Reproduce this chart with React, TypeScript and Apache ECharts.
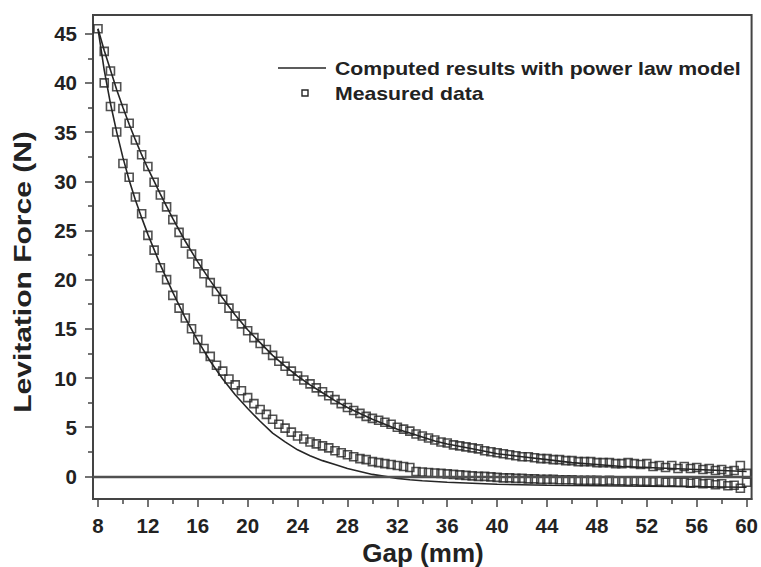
import React, { useEffect, useRef } from "react";
import * as echarts from "echarts";

const X_MAJOR = [8, 12, 16, 20, 24, 28, 32, 36, 40, 44, 48, 52, 56, 60];
const X_MINOR = [10, 14, 18, 22, 26, 30, 34, 38, 42, 46, 50, 54, 58];
const Y_MAJOR = [0, 5, 10, 15, 20, 25, 30, 35, 40, 45];
const Y_MINOR = [2.5, 7.5, 12.5, 17.5, 22.5, 27.5, 32.5, 37.5, 42.5];

const LEGEND_LINE = "Computed results with power law model";
const LEGEND_MEASURED = "Measured data";

const measuredUpper: number[][] = [
  [8, 45.5], [8.5, 43.2], [9, 41.2], [9.5, 39.6], [10, 37.4], [10.5, 35.9], [11, 34.2], [11.5, 32.7],
  [12, 31.5], [12.5, 29.9], [13, 28.6], [13.5, 27.4], [14, 26.1], [14.5, 24.8], [15, 23.7], [15.5, 22.6],
  [16, 21.6], [16.5, 20.6], [17, 19.7], [17.5, 18.8], [18, 18.0], [18.5, 17.1], [19, 16.3], [19.5, 15.5],
  [20, 14.8], [20.5, 14.1], [21, 13.5], [21.5, 12.9], [22, 12.3], [22.5, 11.7], [23, 11.2], [23.5, 10.7],
  [24, 10.2], [24.5, 9.8], [25, 9.4], [25.5, 9.0], [26, 8.6], [26.5, 8.2], [27, 7.8], [27.5, 7.4],
  [28, 7.0], [28.5, 6.7], [29, 6.4], [29.5, 6.1], [30, 5.9], [30.5, 5.7], [31, 5.5], [31.5, 5.3],
  [32, 5.0], [32.5, 4.8], [33, 4.6], [33.5, 4.3], [34, 4.1], [34.5, 3.9], [35, 3.7], [35.5, 3.5],
  [36, 3.4], [36.5, 3.2], [37, 3.1], [37.5, 3.0], [38, 2.9], [38.5, 2.8], [39, 2.6], [39.5, 2.5],
  [40, 2.4], [40.5, 2.3], [41, 2.2], [41.5, 2.1], [42, 2.0], [42.5, 2.0], [43, 1.9], [43.5, 1.8],
  [44, 1.8], [44.5, 1.7], [45, 1.7], [45.5, 1.6], [46, 1.6], [46.5, 1.5], [47, 1.5], [47.5, 1.5],
  [48, 1.4], [48.5, 1.4], [49, 1.4], [49.5, 1.3], [50, 1.3], [50.5, 1.4], [51, 1.3], [51.5, 1.2],
  [52, 1.3], [52.5, 1.0], [53, 1.1], [53.5, 0.9], [54, 1.1], [54.5, 0.8], [55, 1.0], [55.5, 0.8],
  [56, 0.9], [56.5, 0.7], [57, 0.8], [57.5, 0.6], [58, 0.7], [58.5, 0.5], [59, 0.6], [59.5, 1.1],
  [60, 0.3],
];

const measuredLower: number[][] = [
  [8.5, 40.0], [9, 37.6], [9.5, 35.0], [10, 31.8], [10.5, 30.4], [11, 28.4], [11.5, 26.7],
  [12, 24.5], [12.5, 23.0], [13, 21.2], [13.5, 20.0], [14, 18.4], [14.5, 17.1], [15, 16.1], [15.5, 15.0],
  [16, 13.9], [16.5, 13.0], [17, 12.2], [17.5, 11.3], [18, 10.7], [18.5, 9.9], [19, 9.3], [19.5, 8.7],
  [20, 8.0], [20.5, 7.4], [21, 6.8], [21.5, 6.3], [22, 5.8], [22.5, 5.3], [23, 4.9], [23.5, 4.5],
  [24, 4.1], [24.5, 3.8], [25, 3.5], [25.5, 3.3], [26, 3.1], [26.5, 2.9], [27, 2.6], [27.5, 2.4],
  [28, 2.2], [28.5, 2.0], [29, 1.8], [29.5, 1.7], [30, 1.5], [30.5, 1.4], [31, 1.3], [31.5, 1.2],
  [32, 1.1], [32.5, 1.0], [33, 0.9], [33.5, 0.5], [34, 0.45], [34.5, 0.4], [35, 0.35], [35.5, 0.3],
  [36, 0.25], [36.5, 0.2], [37, 0.15], [37.5, 0.1], [38, 0.05], [38.5, 0.0], [39, 0.0], [39.5, -0.05],
  [40, -0.1], [40.5, -0.15], [41, -0.15], [41.5, -0.2], [42, -0.2], [42.5, -0.25], [43, -0.25], [43.5, -0.3],
  [44, -0.3], [44.5, -0.3], [45, -0.35], [45.5, -0.35], [46, -0.35], [46.5, -0.4], [47, -0.4], [47.5, -0.4],
  [48, -0.4], [48.5, -0.45], [49, -0.4], [49.5, -0.45], [50, -0.45], [50.5, -0.5], [51, -0.45], [51.5, -0.5],
  [52, -0.5], [52.5, -0.55], [53, -0.5], [53.5, -0.6], [54, -0.55], [54.5, -0.6], [55, -0.6], [55.5, -0.7],
  [56, -0.6], [56.5, -0.75], [57, -0.7], [57.5, -0.85], [58, -0.75], [58.5, -0.95], [59, -0.9], [59.5, -1.2],
  [60, -0.6],
];

const modelUpper: number[][] = [
  [8, 45.5], [8.5, 43.3], [9, 41.3], [9.5, 39.3], [10, 37.5], [10.5, 35.8], [11, 34.2], [11.5, 32.7],
  [12, 31.3], [13, 28.7], [14, 26.2], [15, 23.9], [16, 21.8], [17, 19.9], [18, 18.1], [19, 16.4],
  [20, 14.9], [21, 13.6], [22, 12.3], [23, 11.2], [24, 10.2], [25, 9.3], [26, 8.5], [27, 7.7],
  [28, 7.0], [29, 6.4], [30, 5.8], [31, 5.3], [32, 4.8], [33, 4.4], [34, 4.0], [35, 3.6],
  [36, 3.3], [38, 2.8], [40, 2.3], [42, 2.0], [44, 1.7], [46, 1.4], [48, 1.2], [50, 1.0],
  [52, 0.9], [54, 0.8], [56, 0.7], [58, 0.6], [60, 0.5],
];

const modelLower: number[][] = [
  [8, 45.5], [8.5, 41.3], [9, 37.9], [9.5, 35.0], [10, 32.4], [10.5, 30.1], [11, 28.1], [11.5, 26.3],
  [12, 24.6], [13, 21.5], [14, 18.7], [15, 16.1], [16, 13.8], [17, 11.7], [18, 9.9], [19, 8.3],
  [20, 6.9], [21, 5.6], [22, 4.4], [23, 3.5], [24, 2.7], [25, 2.1], [26, 1.6], [27, 1.2],
  [28, 0.8], [29, 0.5], [30, 0.2], [31, 0.0], [32, -0.2], [33, -0.35], [34, -0.45], [36, -0.6],
  [38, -0.7], [40, -0.8], [44, -0.9], [48, -0.95], [52, -1.0], [56, -1.05], [60, -1.1],
];

const INK = "#262626";
const AXIS = "#444444";
const FONT = "'Liberation Sans', Arial, sans-serif";

export default function App() {
  const ref = useRef<HTMLDivElement>(null);
  useEffect(() => {
    if (!ref.current) return;
    const chart = echarts.init(ref.current, null, { renderer: "svg" });
    const xRange = { min: 7.6, max: 60.4 };
    const yRange = { min: -2.3, max: 46.9 };
    const labelStyle = { color: "#222", fontFamily: FONT, fontWeight: "bold" as const, fontSize: 20.5 };
    chart.setOption({
      animation: false,
      backgroundColor: "#ffffff",
      grid: {
        left: 93, right: 8, top: 15, bottom: 68,
        show: true, borderColor: AXIS, borderWidth: 2, backgroundColor: "transparent",
      },
      xAxis: [
        {
          type: "value", ...xRange, position: "bottom",
          splitLine: { show: false },
          axisLine: { show: true, onZero: false, lineStyle: { color: AXIS, width: 2 } },
          axisTick: { show: true, inside: false, length: 8, customValues: X_MAJOR, lineStyle: { color: AXIS, width: 1.5 } },
          axisLabel: { ...labelStyle, margin: 16, customValues: X_MAJOR },
        },
        {
          type: "value", ...xRange, position: "bottom",
          splitLine: { show: false },
          axisLine: { show: false, onZero: false },
          axisTick: { show: true, inside: false, length: 5, customValues: X_MINOR, lineStyle: { color: AXIS, width: 1.5 } },
          axisLabel: { show: false },
        },
      ],
      yAxis: [
        {
          type: "value", ...yRange, position: "left",
          splitLine: { show: false },
          axisLine: { show: true, onZero: false, lineStyle: { color: AXIS, width: 2 } },
          axisTick: { show: true, inside: false, length: 8, customValues: Y_MAJOR, lineStyle: { color: AXIS, width: 1.5 } },
          axisLabel: { ...labelStyle, margin: 16, customValues: Y_MAJOR },
        },
        {
          type: "value", ...yRange, position: "left",
          splitLine: { show: false },
          axisLine: { show: false, onZero: false },
          axisTick: { show: true, inside: false, length: 5, customValues: Y_MINOR, lineStyle: { color: AXIS, width: 1.5 } },
          axisLabel: { show: false },
        },
      ],
      series: [
        {
          type: "line", name: LEGEND_LINE, data: modelUpper, showSymbol: false, symbol: "none",
          lineStyle: { color: INK, width: 1.6 }, z: 2,
          markLine: {
            silent: true, symbol: "none", label: { show: false },
            lineStyle: { color: "#505050", width: 2.4, type: "solid" },
            data: [{ yAxis: 0 }],
          },
        },
        {
          type: "line", name: LEGEND_LINE, data: modelLower, showSymbol: false, symbol: "none",
          lineStyle: { color: INK, width: 1.6 }, z: 2,
        },
        {
          type: "scatter", name: LEGEND_MEASURED, data: measuredUpper, symbol: "rect", symbolSize: 8,
          itemStyle: { color: "rgba(255,255,255,0)", borderColor: INK, borderWidth: 1.6 }, z: 3,
        },
        {
          type: "scatter", name: LEGEND_MEASURED, data: measuredLower, symbol: "rect", symbolSize: 8,
          itemStyle: { color: "rgba(255,255,255,0)", borderColor: INK, borderWidth: 1.6 }, z: 3,
        },
      ],
      graphic: [
        { type: "line", shape: { x1: 278, y1: 68, x2: 326, y2: 68 }, style: { stroke: INK, lineWidth: 1.7 } },
        { type: "rect", shape: { x: 302, y: 90, width: 6, height: 6 }, style: { fill: "none", stroke: INK, lineWidth: 1.4 } },
        {
          type: "text", x: 335, y: 69, scaleX: 1.18,
          style: { text: LEGEND_LINE, fill: "#222", font: `bold 18px ${FONT}`, textAlign: "left", textVerticalAlign: "middle", verticalAlign: "middle" },
        },
        {
          type: "text", x: 335, y: 94, scaleX: 1.18,
          style: { text: LEGEND_MEASURED, fill: "#222", font: `bold 18px ${FONT}`, textAlign: "left", textVerticalAlign: "middle", verticalAlign: "middle" },
        },
        {
          type: "text", x: 23, y: 272, rotation: Math.PI / 2, scaleX: 1.25,
          style: { text: "Levitation Force (N)", fill: "#222", font: `bold 24px ${FONT}`, textAlign: "center", textVerticalAlign: "middle", verticalAlign: "middle" },
        },
        {
          type: "text", x: 423, y: 553,
          style: { text: "Gap (mm)", fill: "#222", font: `bold 26px ${FONT}`, textAlign: "center", textVerticalAlign: "middle", verticalAlign: "middle" },
        },
      ],
    });
    return () => chart.dispose();
  }, []);
  return <div ref={ref} style={{ position: "fixed", left: 0, top: 0, width: 761, height: 567 }} />;
}
